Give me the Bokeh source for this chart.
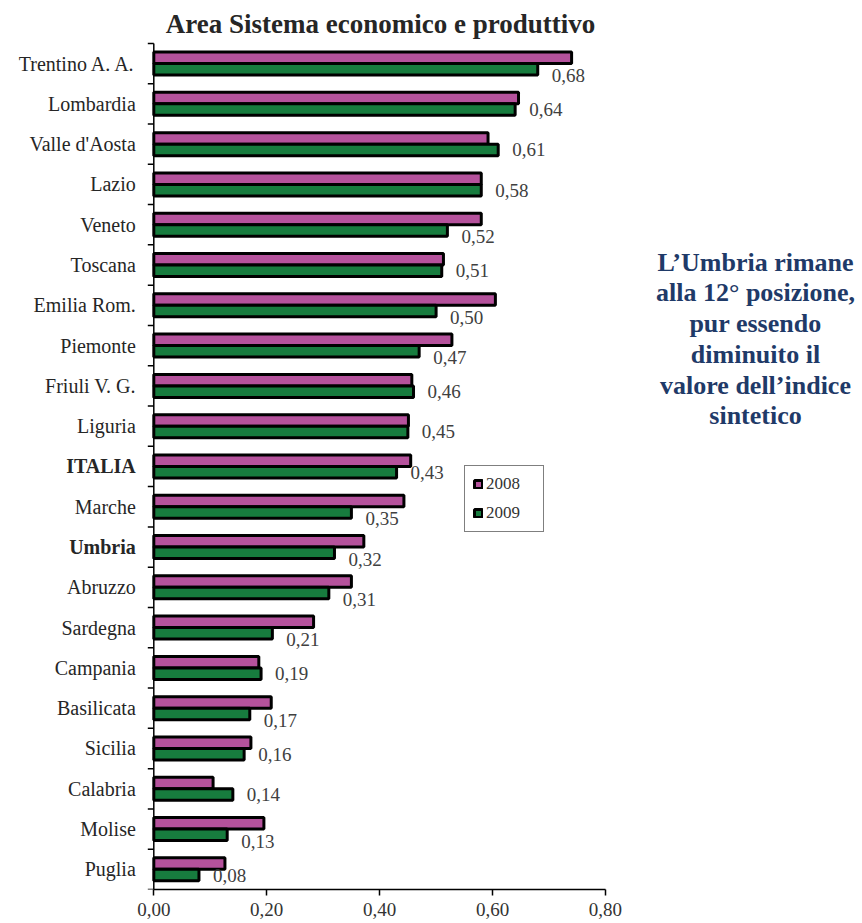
from bokeh.plotting import figure
from bokeh.models import (Range1d, LinearAxis, FixedTicker, Legend, LegendItem,
                          ColumnDataSource, CustomJSTickFormatter)
from bokeh.core.properties import value
from bokeh.embed import file_html
from bokeh.resources import INLINE

# ---------------- data ----------------
regions = ["Trentino A. A.", "Lombardia", "Valle d'Aosta", "Lazio", "Veneto",
           "Toscana", "Emilia Rom.", "Piemonte", "Friuli V. G.", "Liguria",
           "ITALIA", "Marche", "Umbria", "Abruzzo", "Sardegna", "Campania",
           "Basilicata", "Sicilia", "Calabria", "Molise", "Puglia"]
v2008 = [0.740, 0.646, 0.592, 0.580, 0.580, 0.513, 0.605, 0.528, 0.457, 0.451,
         0.455, 0.443, 0.372, 0.350, 0.283, 0.186, 0.208, 0.172, 0.105, 0.195,
         0.126]
v2009 = [0.68, 0.64, 0.61, 0.58, 0.52, 0.51, 0.50, 0.47, 0.46, 0.45,
         0.43, 0.35, 0.32, 0.31, 0.21, 0.19, 0.17, 0.16, 0.14, 0.13, 0.08]
bold_regions = ["ITALIA", "Umbria"]
x_ticks = [0.0, 0.2, 0.4, 0.6, 0.8]
series = ["2008", "2009"]
title_text = "Area Sistema economico e produttivo"
note_lines = ["L\u2019Umbria rimane", "alla 12\u00b0 posizione,", "pur essendo",
              "diminuito il", "valore dell\u2019indice", "sintetico"]

# ---------------- layout ----------------
W, H = 862, 923
X0_PX = 153.3          # pixel of value 0
PX_PER_UNIT = 564.6    # pixels per 1.0 on x
FRAME_H = 889          # frame height (axis at bottom)
BAND = 40.29           # pixels per category band
SERIF = "Liberation Serif"
PURPLE = "#B5529C"
GREEN = "#177C3E"

def px_x(px):
    return (px - X0_PX) / PX_PER_UNIT

def px_y(py):
    return (FRAME_H - py) / BAND

p = figure(width=W, height=H, output_backend="svg", toolbar_location=None,
           x_range=Range1d(px_x(0), px_x(W)), y_range=Range1d(0, FRAME_H / BAND),
           x_axis_location=None, y_axis_location=None,
           min_border_left=0, min_border_right=0, min_border_top=0,
           min_border_bottom=H - FRAME_H)
p.grid.visible = False
p.outline_line_color = None
p.background_fill_color = "white"
p.border_fill_color = "white"

n = len(regions)
centers = [n - i - 0.5 for i in range(n)]
bar_h = 11.5 / BAND

# x axis
xaxis = LinearAxis(ticker=FixedTicker(ticks=x_ticks, minor_ticks=[]), bounds=(0, 0.8),
                   formatter=CustomJSTickFormatter(code="return tick.toFixed(2).replace('.', ',')"))
xaxis.axis_line_color = "black"
xaxis.axis_line_width = 1.5
xaxis.major_tick_line_color = "black"
xaxis.major_tick_line_width = 1.5
xaxis.major_tick_out = 6
xaxis.major_tick_in = 0
xaxis.minor_tick_line_color = None
xaxis.major_label_text_font = SERIF
xaxis.major_label_text_font_size = "19px"
xaxis.major_label_text_color = "#333333"
xaxis.major_label_standoff = 7
p.add_layout(xaxis, "below")

# y axis line + ticks between categories
tick_len = 6 / PX_PER_UNIT
p.segment(x0=[0], y0=[0], x1=[0], y1=[n], line_color="black", line_width=1.5)
bounds_y = list(range(n + 1))
p.segment(x0=[-tick_len] * len(bounds_y), y0=bounds_y, x1=[0] * len(bounds_y),
          y1=bounds_y, line_color="black", line_width=1.5)

# bars
src08 = ColumnDataSource(dict(y=[c + bar_h / 2 for c in centers], v=v2008))
src09 = ColumnDataSource(dict(y=[c - bar_h / 2 for c in centers], v=v2009))
r08 = p.hbar(y="y", left=0, right="v", height=bar_h, source=src08,
             fill_color=PURPLE, line_color="black", line_width=3)
r09 = p.hbar(y="y", left=0, right="v", height=bar_h, source=src09,
             fill_color=GREEN, line_color="black", line_width=3)

# value labels (2009); pushed down a little where the 2008 bar would overlap
dys = []
for i in range(n):
    overlap = (v2008[i] - v2009[i]) > 0.03 and i < n - 1
    dys.append(6.5 if overlap else 0)
lab_src = ColumnDataSource(dict(x=v2009, y=[c - bar_h / 2 for c in centers],
                                t=[("%.2f" % v).replace(".", ",") for v in v2009],
                                dy=dys))
p.text(x="x", y="y", text="t", y_offset="dy", x_offset=14, source=lab_src,
       text_align="left", text_baseline="middle", text_font=value(SERIF),
       text_font_size="19px", text_color="#404040")

# category labels
cat_src = ColumnDataSource(dict(x=[0] * n, y=centers, t=regions,
                                s=["bold" if r in bold_regions else "normal" for r in regions]))
p.text(x="x", y="y", text="t", text_font_style="s", source=cat_src, x_offset=-18,
       text_align="right", text_baseline="middle", text_font=value(SERIF),
       text_font_size="20px", text_color="#262626")

# title
p.text(x=[px_x(380)], y=[px_y(23)], text=[title_text], text_align="center",
       text_baseline="middle", text_font=value(SERIF), text_font_style="bold",
       text_font_size="27px", text_color="#262626")

# side note
note_y = [px_y(261.7 + 30.7 * k) for k in range(len(note_lines))]
p.text(x=[px_x(755)] * len(note_lines), y=note_y, text=note_lines,
       text_align="center", text_baseline="middle", text_font=value(SERIF),
       text_font_style="bold", text_font_size="26px", text_color="#1F3A68")

# legend
legend = Legend(items=[LegendItem(label=series[0], renderers=[r08]),
                       LegendItem(label=series[1], renderers=[r09])],
                location=(464, FRAME_H - 532))
legend.border_line_color = "black"
legend.border_line_width = 1.5
legend.background_fill_color = "white"
legend.background_fill_alpha = 1
legend.label_text_font = SERIF
legend.label_text_font_size = "17px"
legend.label_text_color = "#333333"
legend.glyph_width = 10
legend.glyph_height = 10
legend.label_standoff = 3
legend.padding = 8
legend.spacing = 9
legend.label_height = 17
legend.label_width = 49
legend.margin = 0
p.add_layout(legend, "center")

open("out.html", "w").write(file_html(p, INLINE))
